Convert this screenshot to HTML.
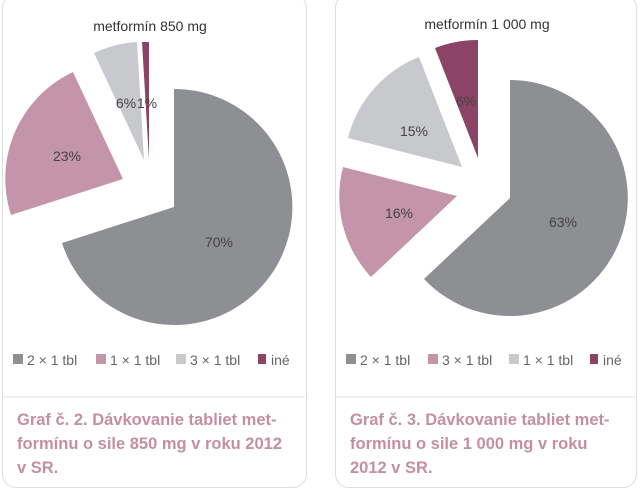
<!DOCTYPE html>
<html><head><meta charset="utf-8"><style>
body{margin:0;width:640px;height:494px;background:#fff;overflow:hidden;font-family:"Liberation Sans",sans-serif;}
.box{position:absolute;top:-6px;height:492px;border:1px solid #ddd;border-radius:14px;}
.cap{position:absolute;font-weight:bold;color:#c48fa3;font-size:16.5px;line-height:24px;}
</style></head><body>
<div class="box" style="left:2px;width:303px"></div>
<div class="box" style="left:335px;width:300px"></div>
<svg width="640" height="494" style="position:absolute;left:0;top:0" font-family="Liberation Sans, sans-serif">
<line x1="3" y1="397" x2="305" y2="397" stroke="#ddd"/>
<line x1="336" y1="397" x2="635" y2="397" stroke="#ddd"/>
<g font-size="14" fill="#333" text-anchor="middle">
<text x="150" y="31">metformín 850 mg</text>
<text x="487" y="29">metformín 1 000 mg</text>
</g>
<!-- left pie -->
<path d="M174,207 L174,89 A118,118 0 1 1 62,243 Z" fill="#8e8f93"/>
<path d="M123,179 L11,215 A118,118 0 0 1 73,72 Z" fill="#c495a8"/>
<path d="M144,160 L94,53 A118,118 0 0 1 137,42 Z" fill="#c8c9cd"/>
<path d="M149,160 L142,42 A118,118 0 0 1 149,42 Z" fill="#8c4466"/>
<!-- right pie -->
<path d="M510,198 L510,80 A118,118 0 1 1 424,279 Z" fill="#8e8f93"/>
<path d="M457,196 L371,277 A118,118 0 0 1 343,167 Z" fill="#c495a8"/>
<path d="M462,167 L348,138 A118,118 0 0 1 419,57 Z" fill="#c8c9cd"/>
<path d="M478,158 L435,48 A118,118 0 0 1 478,40 Z" fill="#8c4466"/>
<g font-size="14" fill="#444" text-anchor="middle">
<text x="219" y="247">70%</text>
<text x="67" y="161">23%</text>
<text x="126" y="108">6%</text>
<text x="147" y="108">1%</text>
<text x="563" y="227">63%</text>
<text x="399" y="218">16%</text>
<text x="414" y="136">15%</text>
<text x="466" y="106">6%</text>
</g>
<g font-size="14" fill="#666">
<rect x="13" y="354" width="10" height="10" fill="#8e8f93"/><text x="27" y="365">2 × 1 tbl</text>
<rect x="96" y="354" width="10" height="10" fill="#c495a8"/><text x="110" y="365">1 × 1 tbl</text>
<rect x="176" y="354" width="10" height="10" fill="#c8c9cd"/><text x="190" y="365">3 × 1 tbl</text>
<rect x="258" y="354" width="8" height="10" fill="#8c4466"/><text x="271" y="365">iné</text>
<rect x="346" y="354" width="10" height="10" fill="#8e8f93"/><text x="360" y="365">2 × 1 tbl</text>
<rect x="428" y="354" width="10" height="10" fill="#c495a8"/><text x="442" y="365">3 × 1 tbl</text>
<rect x="509" y="354" width="10" height="10" fill="#c8c9cd"/><text x="523" y="365">1 × 1 tbl</text>
<rect x="590" y="354" width="8" height="10" fill="#8c4466"/><text x="603" y="365">iné</text>
</g>
</svg>
<div class="cap" style="left:17px;top:408px;width:280px">Graf č. 2. Dávkovanie tabliet met-<br>formínu o sile 850 mg v roku 2012<br>v SR.</div>
<div class="cap" style="left:350px;top:408px;width:280px">Graf č. 3. Dávkovanie tabliet met-<br>formínu o sile 1 000 mg v roku<br>2012 v SR.</div>
</body></html>
